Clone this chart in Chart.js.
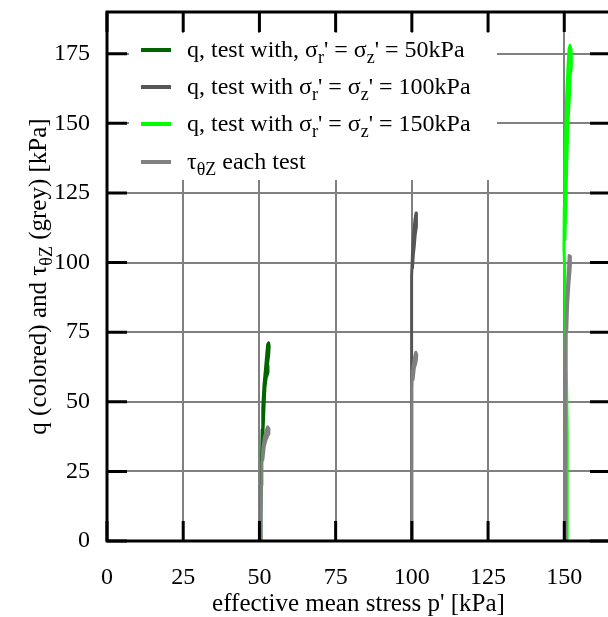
<!DOCTYPE html>
<html><head><meta charset="utf-8">
<script src="https://cdn.jsdelivr.net/npm/chart.js@4/dist/chart.umd.min.js"></script>
<style>html,body{margin:0;padding:0;background:#fff;overflow:hidden}#wrap{width:612px;height:617px}</style>
</head><body><div id="wrap"><canvas id="c" width="612" height="617"></canvas></div>
<script>
// ---- data (p' [kPa], q or tau [kPa]) ----
const xTicks = [0, 25, 50, 75, 100, 125, 150];
const yTicks = [0, 25, 50, 75, 100, 125, 150, 175];

const q50 = [[50.4,0],[50.5,10],[50.6,20],[50.7,30],[50.9,40],[51.1,48],[51.5,56],[52.0,62],[52.4,67],[52.7,70.5],[53.0,71.2],[53.2,70],[53.0,66.5],[52.6,63],[52.8,60.5],[52.2,58.5],[51.8,55],[51.5,48],[51.2,40],[50.9,30]];
const q100 = [[99.9,0],[99.9,20],[99.9,40],[99.9,60],[99.9,80],[100.0,95],[100.2,103],[100.5,109],[100.8,113],[101.1,116],[101.4,117.8],[101.6,116.5],[101.4,113],[101.1,110],[100.8,106],[100.5,103],[100.2,98]];
const q150 = [[151.1,0],[151.0,20],[150.9,40],[150.7,60],[150.5,80],[150.2,95],[149.9,105],[150.0,120],[150.2,135],[150.5,148],[150.8,160],[151.2,170],[151.6,177],[151.9,178],[152.3,176],[152.3,170],[151.9,167],[151.7,160],[151.2,150],[150.8,135],[150.5,120],[150.2,108]];
const tau50 = [[50.4,0],[50.5,10],[50.6,20],[50.8,28],[51.1,33],[51.6,37],[52.2,39.5],[52.7,41],[53.0,40.5],[53.1,38.5],[52.6,37.5],[52.2,36.5],[51.6,34],[51.1,29]];
const tau100 = [[100.0,0],[100.0,20],[100.0,40],[100.0,55],[100.2,61],[100.6,64],[101.0,66.5],[101.3,67.8],[101.6,67],[101.5,65],[101.2,63.5],[100.8,62],[100.4,58]];
const tau150 = [[150.3,0],[150.3,20],[150.4,40],[150.5,60],[150.6,75],[150.8,85],[151.1,92],[151.4,98],[151.6,102.5],[151.9,102.3],[152.0,99],[151.8,96],[151.5,92],[151.1,85],[150.8,75]];

const legendRows = [
  {color:'#006400', parts:[['q, test with, σ'],['r',1],["' = σ"],['z',1],["' = 50kPa"]]},
  {color:'#555555', parts:[['q, test with σ'],['r',1],["' = σ"],['z',1],["' = 100kPa"]]},
  {color:'#00ff00', parts:[['q, test with σ'],['r',1],["' = σ"],['z',1],["' = 150kPa"]]},
  {color:'#808080', parts:[['τ'],['θZ',1],[' each test']]}
];
const yTitleParts = [['q (colored) and τ'],['θZ',1],[' (grey) [kPa]']];
const xTitle = "effective mean stress p' [kPa]";

const FONT = "'Liberation Serif', 'Times New Roman', serif";
const FS = 24, SUB = 18, SUBOFF = 6, TFS = 25;
const toXY = a => a.map(([x,y]) => ({x, y}));

function drawRich(ctx, x, y, parts, fs) {
  let cx = x;
  for (const [t, sub] of parts) {
    ctx.font = (sub ? SUB : fs) + 'px ' + FONT;
    ctx.fillText(t, cx, sub ? y + SUBOFF : y);
    cx += ctx.measureText(t).width;
  }
  return cx - x;
}
function richWidth(ctx, parts, fs) {
  let w = 0;
  for (const [t, sub] of parts) { ctx.font = (sub ? SUB : fs) + 'px ' + FONT; w += ctx.measureText(t).width; }
  return w;
}

const deco = {
  id: 'deco',
  afterDraw(chart) {
    const {ctx, chartArea: {left, right, top, bottom}, scales: {x, y}} = chart;
    ctx.save();
    // legend
    ctx.fillStyle = '#fff';
    ctx.fillRect(129, 33, 368, 147);
    legendRows.forEach((r, i) => {
      const ly = [50, 87, 124, 162][i];
      ctx.strokeStyle = r.color; ctx.lineWidth = 4;
      ctx.beginPath(); ctx.moveTo(141, ly); ctx.lineTo(171, ly); ctx.stroke();
      ctx.fillStyle = '#000'; ctx.textBaseline = 'alphabetic'; ctx.textAlign = 'left';
      drawRich(ctx, 187, ly + 7, r.parts, FS);
    });
    // frame
    ctx.strokeStyle = '#000'; ctx.lineWidth = 3;
    ctx.strokeRect(left, top, right - left, bottom - top);
    ctx.beginPath();
    xTicks.forEach(v => { const px = x.getPixelForValue(v);
      ctx.moveTo(px, bottom); ctx.lineTo(px, bottom - 20);
      ctx.moveTo(px, top); ctx.lineTo(px, top + 20); });
    yTicks.forEach(v => { const py = y.getPixelForValue(v);
      ctx.moveTo(left, py); ctx.lineTo(left + 20, py);
      ctx.moveTo(right, py); ctx.lineTo(right - 20, py); });
    ctx.stroke();
    // x title
    ctx.fillStyle = '#000'; ctx.font = TFS + 'px ' + FONT; ctx.textAlign = 'center'; ctx.textBaseline = 'alphabetic';
    ctx.fillText(xTitle, (left + right) / 2, 611);
    // y title
    ctx.textAlign = 'left';
    const w = richWidth(ctx, yTitleParts, TFS);
    ctx.translate(46, (top + bottom) / 2); ctx.rotate(-Math.PI / 2);
    drawRich(ctx, -w / 2, 0, yTitleParts, TFS);
    ctx.restore();
  }
};

const lineDs = (label, data, color, order) => ({
  label, data: toXY(data), borderColor: color, backgroundColor: color,
  showLine: true, pointRadius: 0, borderWidth: 3, fill: false, order,
  borderJoinStyle: 'round', borderCapStyle: 'round'
});
const noPad = s => { s.paddingTop = 0; s.paddingBottom = 0; s.paddingLeft = 0; s.paddingRight = 0; };

new Chart(document.getElementById('c'), {
  type: 'scatter',
  data: { datasets: [
    lineDs('q 50', q50, '#006400', 2),
    lineDs('q 100', q100, '#555555', 2),
    lineDs('q 150', q150, '#00ff00', 2),
    lineDs('tau 50', tau50, '#808080', 1),
    lineDs('tau 100', tau100, '#808080', 1),
    lineDs('tau 150', tau150, '#808080', 1)
  ]},
  options: {
    responsive: false, animation: false, devicePixelRatio: 1,
    layout: { padding: { left: 0, top: 12, right: 2, bottom: 0 } },
    plugins: { legend: { display: false }, tooltip: { enabled: false } },
    scales: {
      x: { type: 'linear', min: 0, max: 165,
        afterFit: s => { s.height = 76; noPad(s); },
        border: { display: false },
        grid: { color: '#808080', lineWidth: 2, drawTicks: false },
        ticks: { stepSize: 25, includeBounds: false, padding: 22, color: '#000', font: { family: FONT, size: FS } } },
      y: { type: 'linear', min: 0, max: 190,
        afterFit: s => { s.width = 107; noPad(s); },
        border: { display: false },
        grid: { color: '#808080', lineWidth: 2, drawTicks: false },
        ticks: { stepSize: 25, includeBounds: false, padding: 17, color: '#000', font: { family: FONT, size: FS } } }
    }
  },
  plugins: [deco]
});
</script></body></html>
